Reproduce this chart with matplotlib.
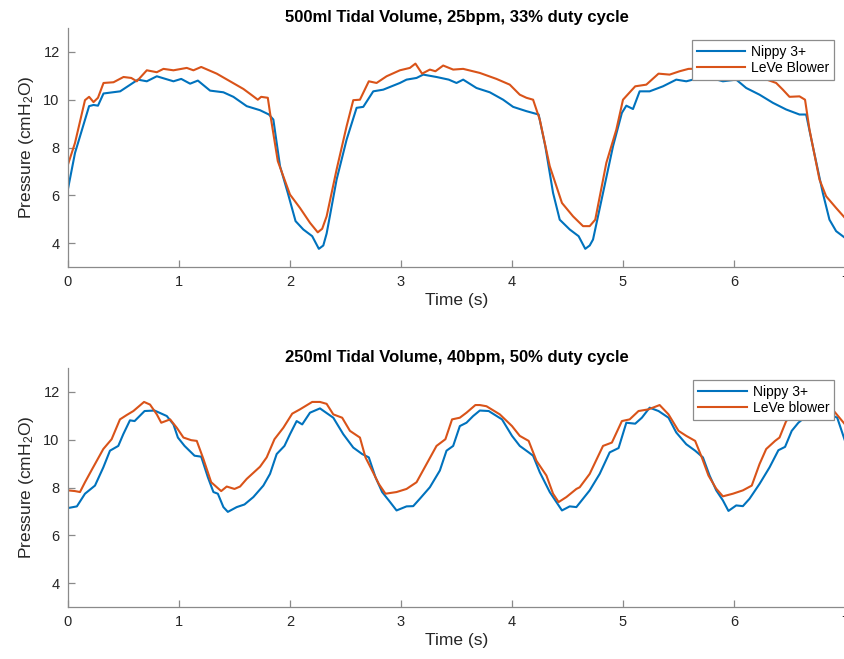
import numpy as np
import matplotlib
matplotlib.use('Agg')
import matplotlib.pyplot as plt

plt.rcParams['font.family'] = ['Liberation Sans', 'DejaVu Sans']
plt.rcParams['mathtext.default'] = 'regular'

# ==================== 1. data ====================
# 500ml, 25bpm, 33% duty cycle
nippy_t1 = [0.00, 0.063, 0.19, 0.23, 0.27, 0.32, 0.47, 0.63, 0.71, 0.80, 0.95, 1.02, 1.10, 1.17,
            1.28, 1.40, 1.49, 1.61, 1.73, 1.81, 1.85, 1.91, 1.98, 2.05, 2.12, 2.20, 2.26, 2.30,
            2.33, 2.36, 2.42, 2.51, 2.60, 2.66, 2.75, 2.84, 2.99, 3.05, 3.14, 3.20, 3.32, 3.43,
            3.50, 3.56, 3.68, 3.80, 3.92, 4.01, 4.13, 4.24, 4.30, 4.37, 4.43, 4.52, 4.60, 4.66,
            4.70, 4.73, 4.82, 4.91, 4.99, 5.03, 5.09, 5.15, 5.24, 5.36, 5.48, 5.57, 5.70, 5.80,
            5.90, 6.02, 6.11, 6.23, 6.35, 6.47, 6.59, 6.65, 6.71, 6.80, 6.86, 6.92, 7.00]
nippy_p1 = [6.27, 7.77, 9.73, 9.78, 9.75, 10.26, 10.35, 10.84, 10.77, 10.98, 10.77, 10.87, 10.67, 10.80,
            10.38, 10.31, 10.12, 9.73, 9.56, 9.38, 9.17, 7.22, 6.10, 4.92, 4.57, 4.29, 3.76, 3.90,
            4.40, 5.15, 6.66, 8.33, 9.66, 9.70, 10.35, 10.42, 10.70, 10.84, 10.91, 11.05, 10.95, 10.84,
            10.70, 10.84, 10.49, 10.31, 10.00, 9.70, 9.52, 9.38, 8.05, 6.10, 4.98, 4.57, 4.29, 3.76,
            3.90, 4.15, 6.10, 8.05, 9.45, 9.75, 9.61, 10.35, 10.35, 10.56, 10.84, 10.77, 10.92, 10.90,
            10.77, 10.84, 10.49, 10.21, 9.87, 9.59, 9.38, 9.38, 8.05, 6.10, 4.98, 4.50, 4.22]

leve_t1 = [0.00, 0.063, 0.153, 0.19, 0.23, 0.27, 0.32, 0.41, 0.50, 0.57, 0.62, 0.71, 0.80, 0.86,
           0.95, 1.07, 1.13, 1.20, 1.34, 1.46, 1.58, 1.65, 1.71, 1.74, 1.80, 1.82, 1.89, 2.00,
           2.09, 2.18, 2.25, 2.29, 2.33, 2.42, 2.51, 2.57, 2.63, 2.71, 2.78, 2.87, 2.99, 3.08,
           3.13, 3.19, 3.26, 3.31, 3.38, 3.47, 3.56, 3.71, 3.86, 3.98, 4.07, 4.13, 4.19, 4.25,
           4.34, 4.45, 4.55, 4.64, 4.70, 4.75, 4.85, 4.94, 5.00, 5.11, 5.21, 5.32, 5.42, 5.51,
           5.59, 5.75, 5.90, 6.05, 6.20, 6.38, 6.44, 6.50, 6.59, 6.64, 6.68, 6.77, 6.83, 6.92, 7.00]
leve_p1 = [7.29, 8.19, 9.98, 10.12, 9.90, 10.08, 10.70, 10.73, 10.95, 10.91, 10.77, 11.23, 11.15, 11.29,
           11.23, 11.33, 11.23, 11.37, 11.09, 10.77, 10.45, 10.21, 10.00, 10.12, 10.08, 9.45, 7.43, 6.03,
           5.47, 4.85, 4.45, 4.60, 5.12, 7.08, 8.89, 9.98, 10.00, 10.77, 10.70, 10.98, 11.23, 11.33,
           11.51, 11.09, 11.26, 11.19, 11.43, 11.26, 11.29, 11.12, 10.87, 10.63, 10.21, 10.08, 10.00, 9.17,
           7.22, 5.68, 5.12, 4.71, 4.71, 4.98, 7.36, 8.75, 10.00, 10.56, 10.63, 11.09, 11.05, 11.19,
           11.29, 11.30, 11.35, 11.25, 11.00, 10.70, 10.42, 10.12, 10.14, 10.00, 8.75, 6.66, 5.96, 5.47, 5.05]

# 250ml, 40bpm, 50% duty cycle
nippy_t2 = [0.00, 0.08, 0.153, 0.243, 0.318, 0.378, 0.453, 0.498, 0.558, 0.60, 0.69, 0.78, 0.89, 0.95,
            0.99, 1.05, 1.14, 1.20, 1.26, 1.31, 1.35, 1.40, 1.44, 1.52, 1.59, 1.67, 1.76, 1.82,
            1.88, 1.95, 2.00, 2.06, 2.11, 2.18, 2.27, 2.39, 2.48, 2.57, 2.65, 2.71, 2.77, 2.83,
            2.89, 2.96, 3.05, 3.11, 3.17, 3.26, 3.35, 3.41, 3.47, 3.53, 3.59, 3.65, 3.71, 3.79,
            3.91, 4.00, 4.07, 4.15, 4.19, 4.25, 4.34, 4.39, 4.45, 4.52, 4.58, 4.64, 4.70, 4.79,
            4.88, 4.96, 5.03, 5.11, 5.17, 5.24, 5.32, 5.41, 5.48, 5.57, 5.65, 5.72, 5.78, 5.84,
            5.90, 5.95, 6.02, 6.08, 6.14, 6.23, 6.32, 6.40, 6.46, 6.52, 6.58, 6.68, 6.78, 6.93, 7.00]
nippy_p2 = [7.14, 7.21, 7.74, 8.08, 8.84, 9.54, 9.74, 10.23, 10.81, 10.78, 11.20, 11.22, 10.99, 10.64,
            10.09, 9.74, 9.33, 9.29, 8.43, 7.81, 7.74, 7.18, 6.98, 7.18, 7.29, 7.60, 8.08, 8.57,
            9.40, 9.74, 10.23, 10.78, 10.64, 11.13, 11.31, 10.92, 10.23, 9.67, 9.40, 9.26, 8.43, 7.81,
            7.46, 7.04, 7.21, 7.22, 7.53, 8.01, 8.71, 9.54, 9.74, 10.57, 10.71, 10.99, 11.22, 11.20,
            10.85, 10.16, 9.74, 9.47, 9.33, 8.64, 7.81, 7.46, 7.04, 7.21, 7.18, 7.53, 7.88, 8.57,
            9.47, 9.65, 10.71, 10.67, 10.92, 11.34, 11.20, 10.92, 10.30, 9.81, 9.54, 9.26, 8.50, 7.88,
            7.46, 7.02, 7.25, 7.22, 7.53, 8.15, 8.84, 9.56, 9.70, 10.37, 10.71, 11.10, 11.25, 10.92, 9.95]

leve_t2 = [0.00, 0.063, 0.108, 0.153, 0.213, 0.318, 0.393, 0.468, 0.528, 0.589, 0.685, 0.739, 0.80, 0.84,
           0.92, 0.98, 1.04, 1.11, 1.16, 1.22, 1.29, 1.38, 1.43, 1.50, 1.55, 1.61, 1.73, 1.79,
           1.86, 1.94, 2.02, 2.09, 2.20, 2.27, 2.33, 2.39, 2.47, 2.54, 2.63, 2.68, 2.74, 2.80,
           2.86, 2.96, 3.05, 3.14, 3.23, 3.32, 3.40, 3.46, 3.53, 3.59, 3.67, 3.71, 3.77, 3.89,
           4.00, 4.07, 4.15, 4.22, 4.31, 4.37, 4.42, 4.49, 4.58, 4.61, 4.70, 4.82, 4.90, 4.99,
           5.06, 5.14, 5.23, 5.33, 5.41, 5.50, 5.57, 5.65, 5.71, 5.77, 5.84, 5.90, 5.99, 6.08,
           6.16, 6.23, 6.29, 6.37, 6.41, 6.47, 6.58, 6.70, 6.80, 6.90, 7.00]
leve_p2 = [7.88, 7.85, 7.81, 8.22, 8.73, 9.61, 10.02, 10.85, 11.03, 11.20, 11.58, 11.47, 11.06, 10.71,
           10.85, 10.50, 10.09, 9.98, 9.95, 9.19, 8.22, 7.85, 8.04, 7.94, 8.04, 8.36, 8.87, 9.26,
           10.02, 10.50, 11.09, 11.27, 11.58, 11.58, 11.50, 11.06, 10.92, 10.37, 10.09, 9.26, 8.71, 8.15,
           7.74, 7.81, 7.94, 8.22, 8.98, 9.74, 10.02, 10.85, 10.92, 11.13, 11.45, 11.45, 11.40, 11.06,
           10.57, 10.16, 9.95, 9.12, 8.50, 7.74, 7.39, 7.60, 7.94, 8.01, 8.57, 9.74, 9.88, 10.78,
           10.85, 11.20, 11.27, 11.45, 11.06, 10.37, 10.16, 9.95, 9.26, 8.50, 7.95, 7.63, 7.74, 7.88,
           8.08, 8.98, 9.61, 9.95, 10.09, 10.78, 11.20, 11.50, 11.50, 11.20, 10.64]

titles = ['500ml Tidal Volume, 25bpm, 33% duty cycle',
          '250ml Tidal Volume, 40bpm, 50% duty cycle']
leve_names = ['LeVe Blower', 'LeVe blower']

# ==================== 2. plot ====================
blue = '#0072BD'
orange = '#D95319'
axis_grey = '#8a8a8a'

fig = plt.figure(figsize=(8.45, 6.59), dpi=100, facecolor='white')
ax1 = fig.add_axes([68 / 845, 1 - 267 / 659, 777 / 845, 239 / 659])
ax2 = fig.add_axes([68 / 845, 1 - 607 / 659, 777 / 845, 239 / 659])

panels = [(ax1, nippy_t1, nippy_p1, leve_t1, leve_p1),
          (ax2, nippy_t2, nippy_p2, leve_t2, leve_p2)]

for i, (ax, nt, npv, lt, lpv) in enumerate(panels):
    ax.plot(nt, npv, color=blue, lw=1.5, label='Nippy 3+')
    ax.plot(lt, lpv, color=orange, lw=1.5, label=leve_names[i])
    ax.set_xlim(0, 7)
    ax.set_ylim(3, 13)
    ax.set_xticks(range(0, 8))
    ax.set_yticks([4, 6, 8, 10, 12])
    for side in ['top', 'right']:
        ax.spines[side].set_visible(False)
    for side in ['left', 'bottom']:
        ax.spines[side].set_color(axis_grey)
        ax.spines[side].set_linewidth(0.9)
    ax.tick_params(direction='in', length=5, width=0.9, color=axis_grey,
                   labelsize=10.5, labelcolor='#262626', pad=6)
    ax.set_xlabel('Time (s)', fontsize=12.5, color='#262626', labelpad=3)
    ax.set_ylabel('Pressure (cmH$_2$O)', fontsize=12.5, color='#262626', labelpad=5)
    ax.set_title(titles[i], fontsize=12, fontweight='bold', pad=4)
    leg = ax.legend(loc='upper right', bbox_to_anchor=(1 - 11 / 777, 1 - 12 / 239),
                    borderaxespad=0, fontsize=10, fancybox=False, framealpha=1,
                    edgecolor='#8c8c8c', handlelength=3.5, handletextpad=0.4,
                    labelspacing=0.15, borderpad=0.35)
    leg.get_frame().set_linewidth(0.9)

plt.savefig('out.png', dpi=100, facecolor='white')
